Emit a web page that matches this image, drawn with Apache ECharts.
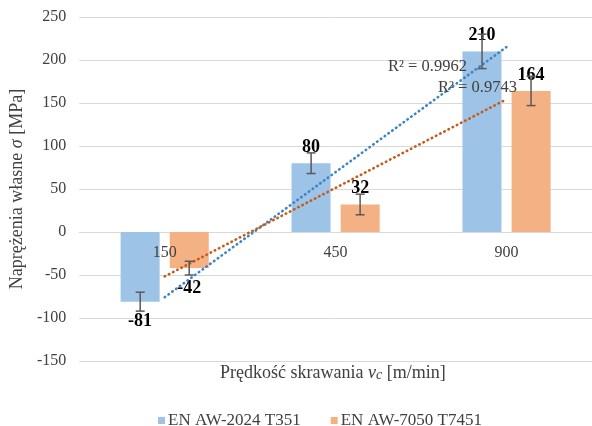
<!DOCTYPE html>
<html><head><meta charset="utf-8">
<script src="https://cdn.jsdelivr.net/npm/echarts@6/dist/echarts.min.js"></script>
<style>html,body{margin:0;padding:0;background:#fff}#c{width:592px;height:426px}</style>
</head><body><div id="c"></div>
<script>
const categories = ['150', '450', '900'];
const seriesNames = ['EN AW-2024 T351', 'EN AW-7050 T7451'];
const valsA = [-81, 80, 210];
const valsB = [-42, 32, 164];
const errA = [11, 12, 20];
const errB = [8, 12, 17];
const yTicks = { min: -150, max: 250, interval: 50 };

const FONT = '"Liberation Serif","Times New Roman",serif';
const TXT = '#404040';
const colA = '#9dc3e6', colB = '#f4b183';
const trendA = '#3d85c6', trendB = '#c65b17';

function fit(vals) {
  const n = vals.length, xs = vals.map((_, i) => i + 1);
  const mx = xs.reduce((a, b) => a + b) / n, my = vals.reduce((a, b) => a + b) / n;
  let sxy = 0, sxx = 0;
  xs.forEach((x, i) => { sxy += (x - mx) * (vals[i] - my); sxx += (x - mx) ** 2; });
  const k = sxy / sxx, b = my - k * mx;
  const pred = xs.map(x => k * x + b);
  let ssr = 0, sst = 0;
  vals.forEach((v, i) => { ssr += (v - pred[i]) ** 2; sst += (v - my) ** 2; });
  return { pred, r2: 1 - ssr / sst };
}
const fA = fit(valsA), fB = fit(valsB);

function labelled(vals) {
  return vals.map(v => ({ value: v, label: { position: v < 0 ? 'bottom' : 'top', distance: v < 0 ? 11 : 7 } }));
}
function errSeries(vals, errs, off) {
  return {
    type: 'custom', z: 5, silent: true,
    data: vals.map((v, i) => [i, v, errs[i]]),
    encode: { x: 0, y: 1 },
    renderItem: (params, api) => {
      const c = api.value(0), v = api.value(1), e = api.value(2);
      const t = api.coord([c, v + e]), b = api.coord([c, v - e]);
      const x = t[0] + off, hw = 4.5;
      const st = { stroke: '#595959', lineWidth: 1.5 };
      return { type: 'group', children: [
        { type: 'line', shape: { x1: x, y1: t[1], x2: x, y2: b[1] }, style: st },
        { type: 'line', shape: { x1: x - hw, y1: t[1], x2: x + hw, y2: t[1] }, style: st },
        { type: 'line', shape: { x1: x - hw, y1: b[1], x2: x + hw, y2: b[1] }, style: st }
      ]};
    }
  };
}
function trend(pred, color) {
  return {
    type: 'line', data: pred, symbol: 'none', z: 4, silent: true,
    lineStyle: { color: color, width: 2.6, type: [0.5, 4.2], cap: 'round' }
  };
}
// category labels drawn next to the zero line (axis crosses at 0)
const catLabels = {
  type: 'custom', z: 8, silent: true,
  data: categories.map((c, i) => [i, 0]),
  encode: { x: 0, y: 1 },
  renderItem: (params, api) => {
    const p = api.coord([api.value(0), api.value(1)]);
    return { type: 'text', x: p[0], y: p[1] + 13,
      style: { text: categories[params.dataIndex], font: '16px ' + FONT, fill: TXT, align: 'center', verticalAlign: 'top' } };
  }
};

const chart = echarts.init(document.getElementById('c'), null, { renderer: 'canvas' });
chart.setOption({
  animation: false,
  textStyle: { fontFamily: FONT },
  grid: { left: 75, top: 17, width: 521, height: 344 },
  legend: {
    data: seriesNames, top: 407, left: 153, icon: 'rect', itemWidth: 7, itemHeight: 7, itemGap: 30,
    textStyle: { fontFamily: FONT, fontSize: 17, color: TXT, padding: [0, 0, 0, -2] }
  },
  xAxis: {
    type: 'category', data: categories,
    axisTick: { show: false },
    axisLine: { onZero: true, lineStyle: { color: '#d9d9d9', width: 1 } },
    axisLabel: { show: false }
  },
  yAxis: {
    type: 'value', min: yTicks.min, max: yTicks.max, interval: yTicks.interval,
    axisLine: { show: false }, axisTick: { show: false },
    splitLine: { lineStyle: { color: '#d9d9d9', width: 1 } },
    axisLabel: { fontFamily: FONT, fontSize: 16, color: TXT, margin: 13 },
    name: '{n|Naprężenia własne }{i|σ}{n| [MPa]}', nameLocation: 'middle', nameRotate: 90, nameGap: 52,
    nameTextStyle: { rich: {
      n: { fontFamily: FONT, fontSize: 18, color: TXT },
      i: { fontFamily: FONT, fontSize: 18, color: TXT, fontStyle: 'italic' } } }
  },
  series: [
    { name: seriesNames[0], type: 'bar', data: labelled(valsA), barWidth: 39, barGap: '26%',
      itemStyle: { color: colA },
      label: { show: true, fontFamily: FONT, fontSize: 18, fontWeight: 'bold', color: '#000' } },
    { name: seriesNames[1], type: 'bar', data: labelled(valsB), barWidth: 39,
      itemStyle: { color: colB },
      label: { show: true, fontFamily: FONT, fontSize: 18, fontWeight: 'bold', color: '#000' } },
    trend(fA.pred, trendA),
    trend(fB.pred, trendB),
    errSeries(valsA, errA, -24.5),
    errSeries(valsB, errB, 24.5),
    catLabels
  ],
  graphic: [
    { type: 'text', left: 388, top: 58, z: 10,
      style: { text: 'R² = ' + fA.r2.toFixed(4), font: '16.5px ' + FONT, fill: TXT } },
    { type: 'text', left: 438, top: 79, z: 10,
      style: { text: 'R² = ' + fB.r2.toFixed(4), font: '16.5px ' + FONT, fill: TXT } },
    { type: 'text', left: 220, top: 364, z: 10,
      style: { rich: {
        n: { fontFamily: FONT, fontSize: 18, fill: TXT },
        i: { fontFamily: FONT, fontSize: 18, fill: TXT, fontStyle: 'italic' },
        s: { fontFamily: FONT, fontSize: 14, fill: TXT, fontStyle: 'italic', padding: [4, 0, 0, 0] } },
        text: '{n|Prędkość skrawania }{i|v}{s|c}{n| [m/min]}' } }
  ]
});
</script></body></html>
